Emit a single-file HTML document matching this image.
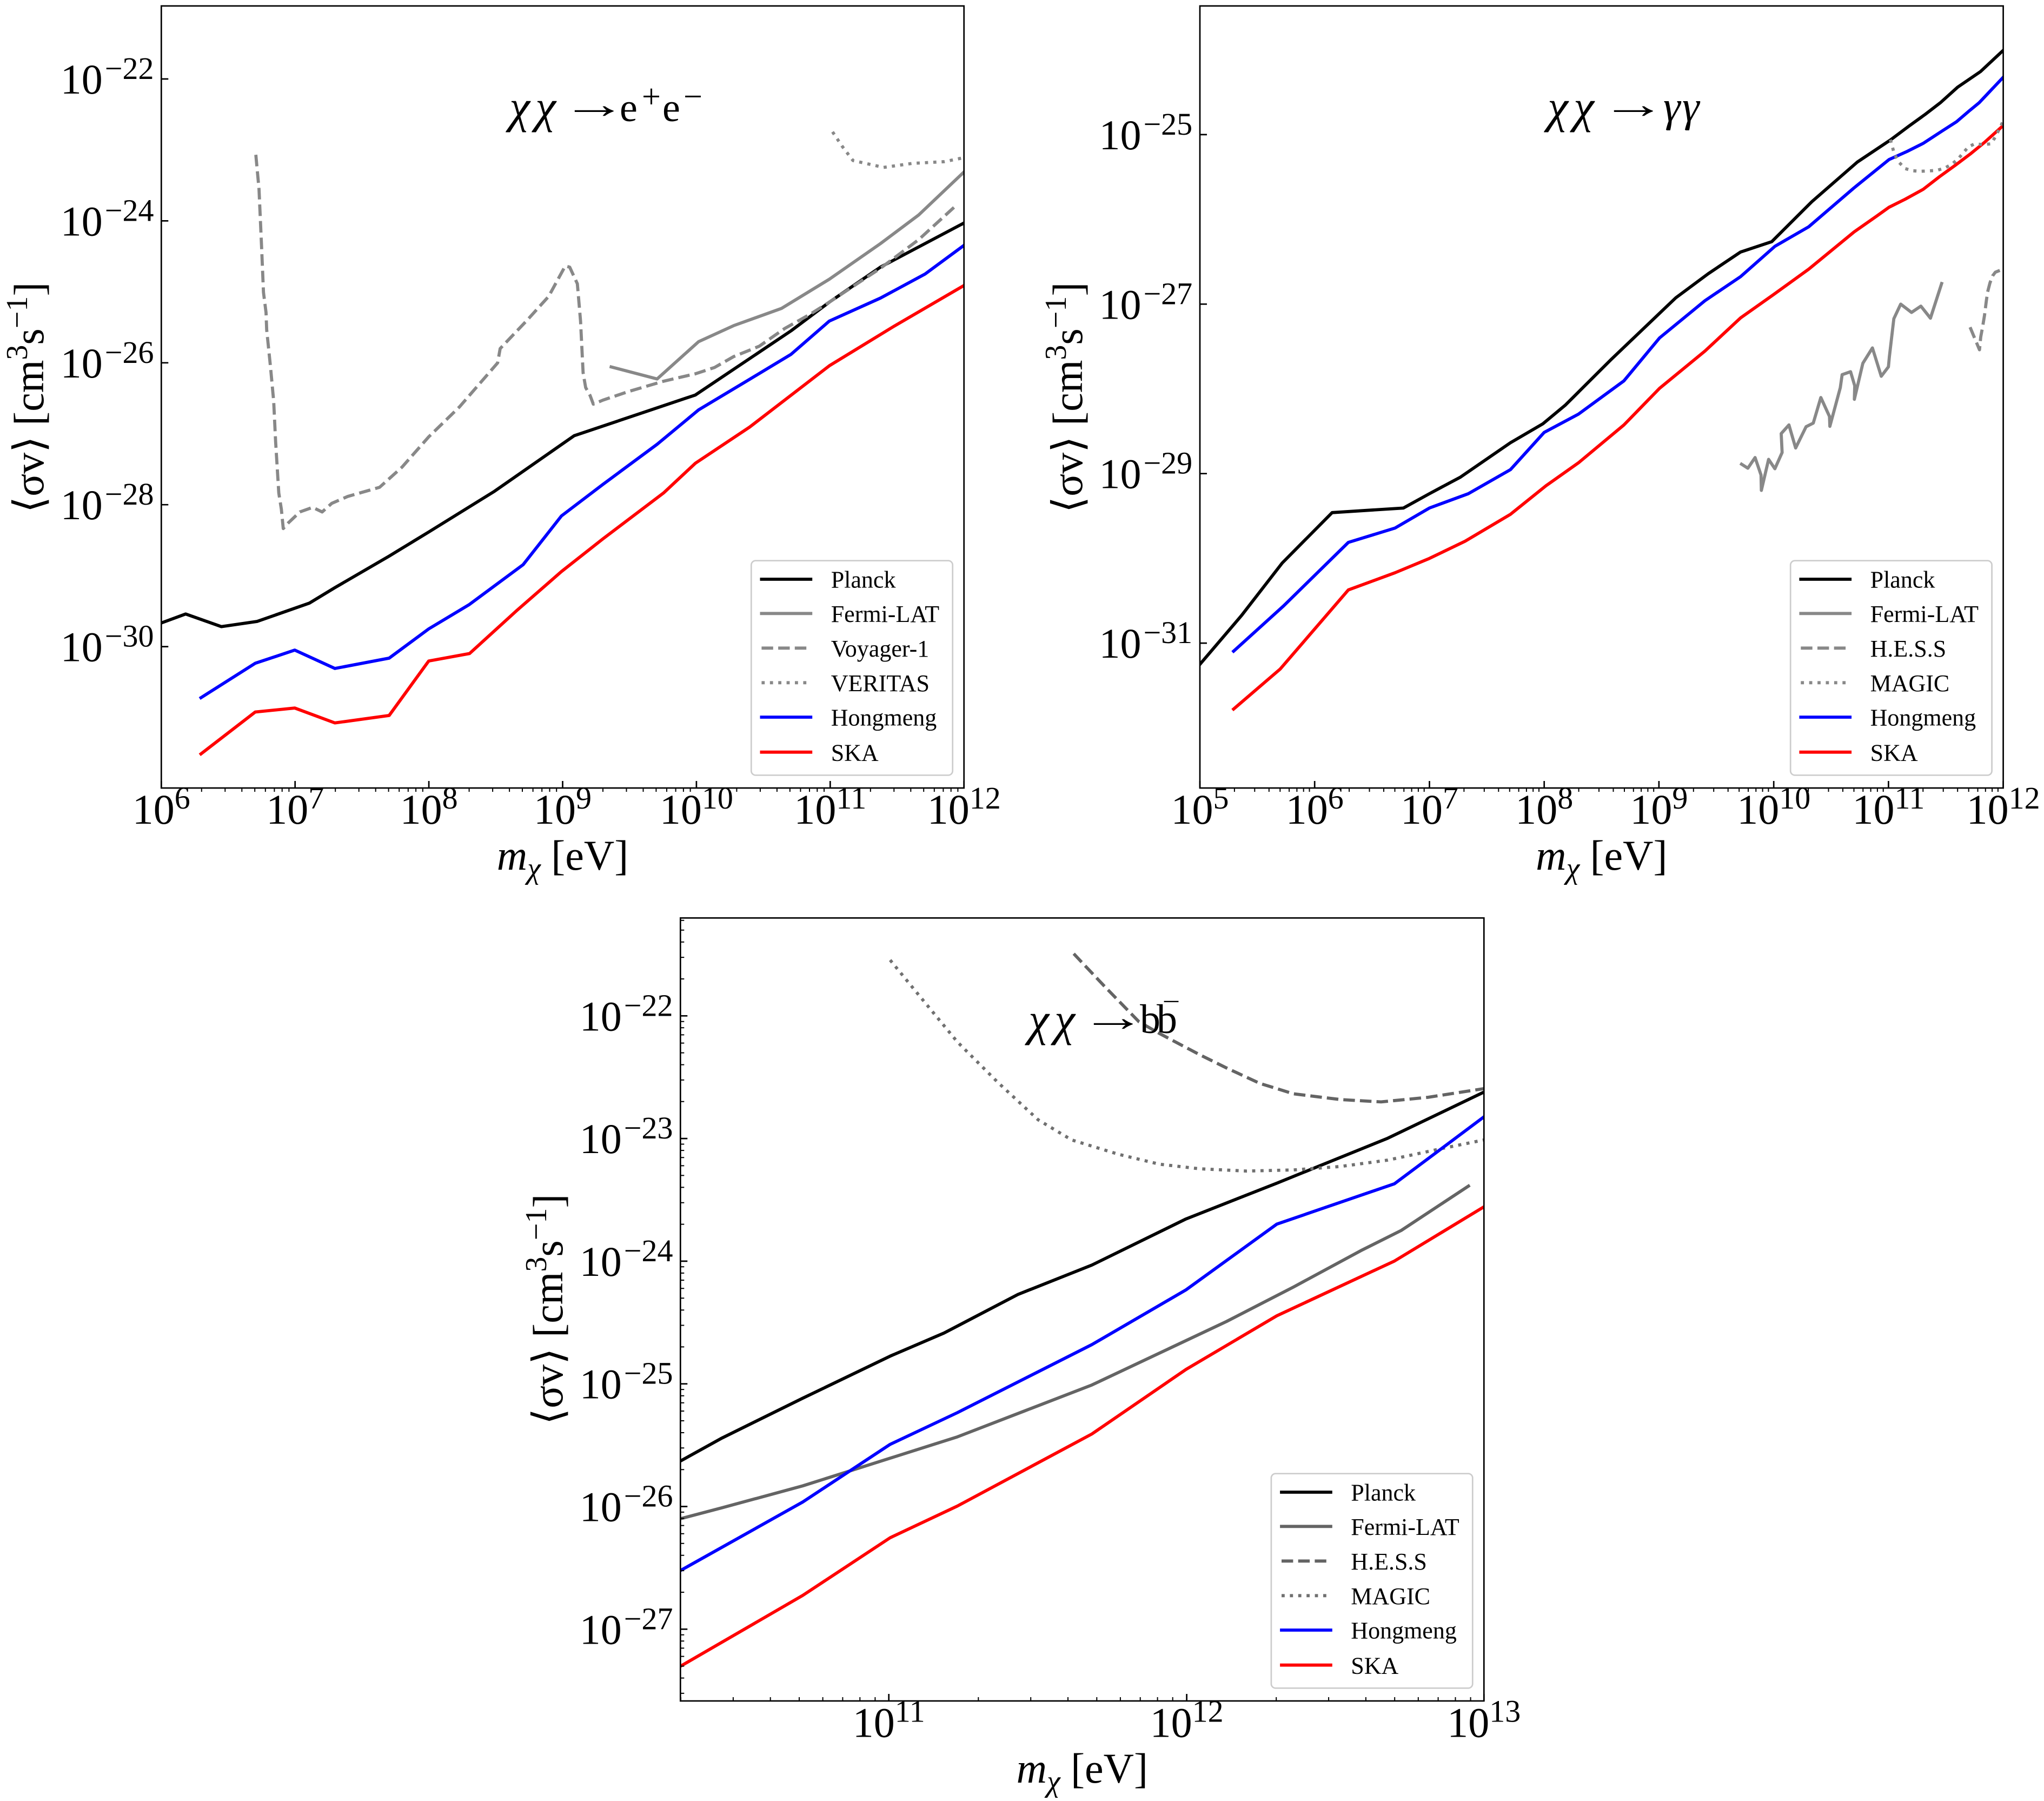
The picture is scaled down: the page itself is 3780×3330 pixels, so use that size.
<!DOCTYPE html>
<html><head><meta charset="utf-8"><style>
html,body{margin:0;padding:0;background:#fff;}
svg{display:block;}
text{font-family:"Liberation Serif","DejaVu Serif",serif;fill:#000;}
.ax{fill:none;stroke:#000;stroke-width:2.7;}
.tk{fill:none;stroke:#000;stroke-width:2.7;}
.mt{fill:none;stroke:#000;stroke-width:2;}
.ln{fill:none;stroke-width:5.8;stroke-linejoin:round;stroke-linecap:square;vector-effect:non-scaling-stroke;}
.da{stroke-dasharray:21.4 9.3;stroke-linecap:butt;}
.do{stroke-dasharray:5.8 9.6;stroke-linecap:butt;}
.lg{fill:#fff;stroke:#cccccc;stroke-width:2.7;}
.lt{font-size:44px;}
.tl{font-size:78px;}
</style></head><body>
<svg width="3780" height="3330" viewBox="0 0 3780 3330" xmlns="http://www.w3.org/2000/svg">
<defs>
<clipPath id="c1"><rect x="298.3" y="11" width="1484.4" height="1446"/></clipPath>
<clipPath id="c2"><rect x="2219" y="11" width="1485.6" height="1446"/></clipPath>
<clipPath id="c3"><rect x="1258.3" y="1697.3" width="1486" height="1447.7"/></clipPath>
<path id="mx1" d="M74.5 0v7M118 0v7M149 0v7M172.9 0v7M192.5 0v7M209.1 0v7M223.4 0v7M236.1 0v7"/>
<path id="mx2" d="M63.9 0v7M101.3 0v7M127.8 0v7M148.3 0v7M165.1 0v7M179.4 0v7M191.7 0v7M202.5 0v7"/>
<path id="mx3" d="M165.6 0v-7M262.5 0v-7M331.3 0v-7M384.6 0v-7M428.2 0v-7M465 0v-7M496.9 0v-7M525 0v-7"/>
<path id="my3" d="M0 -68.3h7M0 -108.2h7M0 -136.5h7M0 -158.5h7M0 -176.5h7M0 -191.7h7M0 -204.8h7M0 -216.4h7"/>
</defs>
<rect x="0" y="0" width="3780" height="3330" fill="#fff"/>

<!-- ================= PANEL 1 ================= -->
<g clip-path="url(#c1)">
<g transform="matrix(1.1798 0 0 1.06 0 0)">
<path class="ln" stroke="#000" d="M252,1087 L291,1071 L347,1093 L403,1084 L485,1052 L525,1025 L610,970 L672,928 L775,857 L900,760 L1090,689 L1240,577 L1300,527 L1380,466 L1511,389"/>
<path class="ln" stroke="#888" d="M958,640 L1030,661 L1095,596 L1150,568 L1225,538 L1300,487 L1380,425 L1440,375 L1511,300"/>
<path class="ln da" stroke="#888" d="M401,270 L406,330 L410,430 L413,510 L417,545 L418,575 L424,640 L429,700 L432,770 L437,860 L441,888 L444,922 L452,912 L470,893 L490,885 L505,893 L520,878 L545,866 L595,850 L630,815 L672,762 L720,710 L780,633 L784,608 L825,560 L860,517 L886,464 L893,466 L905,495 L910,560 L914,650 L918,676 L925,690 L930,705 L945,698 L985,683 L1040,665 L1090,652 L1120,641 L1150,622 L1190,604 L1230,573 L1270,548 L1300,527 L1380,468 L1440,418 L1500,357"/>
<path class="ln do" stroke="#888" d="M1305,230 L1320,255 L1337,280 L1385,292 L1430,285 L1480,282 L1511,275"/>
<path class="ln" stroke="#0000ff" d="M315,1217 L400,1157 L462,1134 L525,1166 L610,1148 L672,1097 L735,1055 L820,985 L880,900 L945,845 L1030,775 L1095,715 L1170,665 L1240,618 L1300,560 L1380,520 L1450,478 L1511,428"/>
<path class="ln" stroke="#ff0000" d="M315,1315 L400,1242 L462,1235 L525,1261 L610,1248 L672,1153 L736,1140 L810,1065 L880,997 L945,940 L1040,860 L1090,808 L1175,745 L1300,638 L1400,570 L1511,498"/>
</g>
</g>
<rect class="ax" x="298.3" y="11" width="1484.4" height="1446"/>
<path class="tk" d="M298.3 1457v-13M545.7 1457v-13M793.1 1457v-13M1040.5 1457v-13M1287.9 1457v-13M1535.3 1457v-13M1782.7 1457v-13M298.3 146h13M298.3 408.4h13M298.3 670.8h13M298.3 933.2h13M298.3 1195.6h13"/>
<g class="mt">
<use href="#mx1" x="298.3" y="1457"/><use href="#mx1" x="545.7" y="1457"/><use href="#mx1" x="793.1" y="1457"/>
<use href="#mx1" x="1040.5" y="1457"/><use href="#mx1" x="1287.9" y="1457"/><use href="#mx1" x="1535.3" y="1457"/>
</g>
<g class="tl" text-anchor="middle">
<text x="298.3" y="1523">10<tspan dy="-28" font-size="58">6</tspan></text>
<text x="545.7" y="1523">10<tspan dy="-28" font-size="58">7</tspan></text>
<text x="793.1" y="1523">10<tspan dy="-28" font-size="58">8</tspan></text>
<text x="1040.5" y="1523">10<tspan dy="-28" font-size="58">9</tspan></text>
<text x="1287.9" y="1523">10<tspan dy="-28" font-size="58">10</tspan></text>
<text x="1535.3" y="1523">10<tspan dy="-28" font-size="58">11</tspan></text>
<text x="1782.7" y="1523">10<tspan dy="-28" font-size="58">12</tspan></text>
</g>
<g class="tl" text-anchor="end">
<text x="284.5" y="173">10<tspan dx="4" dy="-27" font-size="58">−22</tspan></text>
<text x="284.5" y="435.4">10<tspan dx="4" dy="-27" font-size="58">−24</tspan></text>
<text x="284.5" y="697.8">10<tspan dx="4" dy="-27" font-size="58">−26</tspan></text>
<text x="284.5" y="960.2">10<tspan dx="4" dy="-27" font-size="58">−28</tspan></text>
<text x="284.5" y="1222.6">10<tspan dx="4" dy="-27" font-size="58">−30</tspan></text>
</g>
<text class="tl" text-anchor="middle" transform="translate(80,735) rotate(-90)">⟨σv⟩ [cm<tspan dy="-30" font-size="56">3</tspan><tspan dy="30">s</tspan><tspan dy="-30" font-size="56">−1</tspan><tspan dy="30">]</tspan></text>
<text class="tl" x="1040.5" y="1608" text-anchor="middle"><tspan font-style="italic">m</tspan><tspan font-style="italic" font-size="56" dy="16">χ</tspan><tspan dy="-16"> [eV]</tspan></text>
<!-- title 1 -->
<text y="226" font-size="86" font-style="italic"><tspan x="942">χ</tspan><tspan x="990">χ</tspan></text>
<text transform="translate(1038,218) scale(1.6,1)" font-size="76">→</text>
<text y="224" font-size="74"><tspan x="1146">e</tspan><tspan x="1225">e</tspan></text>
<text y="199" font-size="62"><tspan x="1187">+</tspan><tspan x="1264">−</tspan></text>
<!-- legend 1 -->
<rect class="lg" x="1389.3" y="1036.7" width="372.4" height="396.6" rx="8"/>
<path class="ln" stroke="#000" d="M1408.4 1071H1499.3"/>
<path class="ln" stroke="#888" d="M1408.4 1134.3H1499.3"/>
<path class="ln da" stroke="#888" d="M1408.4 1198.3H1499.3"/>
<path class="ln do" stroke="#888" d="M1408.4 1262.3H1499.3"/>
<path class="ln" stroke="#0000ff" d="M1408.4 1326H1499.3"/>
<path class="ln" stroke="#ff0000" d="M1408.4 1390.7H1499.3"/>
<g class="lt">
<text x="1536.7" y="1086.7">Planck</text>
<text x="1536.7" y="1150">Fermi-LAT</text>
<text x="1536.7" y="1214">Voyager-1</text>
<text x="1536.7" y="1278">VERITAS</text>
<text x="1536.7" y="1341.7">Hongmeng</text>
<text x="1536.7" y="1406.4">SKA</text>
</g>

<!-- ================= PANEL 2 ================= -->
<g clip-path="url(#c2)">
<g transform="matrix(1.199 0 0 1.059 1900 0)">
<path class="ln" stroke="#000" d="M266,1160 L330,1075 L393,983 L470,895 L580,887 L620,862 L668,833 L745,773 L795,740 L830,707 L900,628 L975,547 L1000,520 L1050,478 L1100,440 L1148,422 L1210,352 L1280,283 L1331.7,243.9 L1359.5,220.3 L1384.5,199.9 L1408.1,179.4 L1435,152 L1470,125 L1505,88"/>
<path class="ln" stroke="#0000ff" d="M318,1137 L395,1058 L495,947 L567,922 L620,887 L680,862 L745,820 L797,755 L850,723 L920,665 L975,590 L1045,525 L1100,483 L1153,430 L1205,396 L1275,328 L1329,278.6 L1356.8,264.4 L1381.8,250.2 L1409.5,229.7 L1433.1,212.5 L1452.6,193.6 L1467.9,179.4 L1505,135"/>
<path class="ln" stroke="#ff0000" d="M318,1238 L390,1168 L495,1030 L567,1000 L620,975 L675,945 L745,898 L800,848 L850,808 L920,742 L975,678 L1045,613 L1100,555 L1150,515 L1205,470 L1275,405 L1309.4,377.7 L1328.9,361.9 L1353.9,347.8 L1381.7,330.5 L1406.8,308.5 L1431.8,288 L1454,269.1 L1476.2,248.6 L1505.4,218.8"/>
</g>
<path class="ln" stroke="#888" d="M3220.7,858.3 L3232.3,865.7 L3245.7,846 L3256.7,878.3 L3257.3,906.7 L3270.7,849.3 L3282.3,866.7 L3295.7,836.7 L3294,801.7 L3308.3,785.7 L3320.7,828.3 L3340,789 L3353.3,782.3 L3367.3,735 L3383.3,770 L3384,788.3 L3403.3,716.7 L3406.7,692.7 L3422.3,687.3 L3430,713.3 L3429.3,738.3 L3445,671.7 L3462.7,643.3 L3479,695.7 L3492.3,678.3 L3494,660 L3502.3,589.3 L3515,562.3 L3535,577.7 L3552.3,566 L3570,588.3 L3590.7,524.3"/>
<path class="ln da" stroke="#888" d="M3643.3,605 L3660.7,646.7 L3663,623 L3666.7,603 L3670,583 L3673.3,556.7 L3675.7,540 L3680,523.3 L3685,510 L3690,503.3 L3698.3,500"/>
<path class="ln do" stroke="#888" d="M3496,258.3 L3503.3,285 L3511.7,300 L3523.3,311.7 L3536.7,315.7 L3551.7,316.7 L3566.7,316 L3581.7,315 L3596.7,310.7 L3610,303.3 L3621.7,293.3 L3630,283.3 L3640,271.7 L3651.7,266 L3666.7,267.3 L3681.7,266 L3690,253.3 L3705,223"/>
</g>
<rect class="ax" x="2219" y="11" width="1485.6" height="1446"/>
<path class="tk" d="M2219 1457v-13M2431.2 1457v-13M2643.5 1457v-13M2855.7 1457v-13M3067.9 1457v-13M3280.2 1457v-13M3492.4 1457v-13M3704.6 1457v-13M2219 248.9h13M2219 562.3h13M2219 875.7h13M2219 1189.1h13"/>
<g class="mt">
<use href="#mx2" x="2219" y="1457"/><use href="#mx2" x="2431.2" y="1457"/><use href="#mx2" x="2643.5" y="1457"/>
<use href="#mx2" x="2855.7" y="1457"/><use href="#mx2" x="3067.9" y="1457"/><use href="#mx2" x="3280.2" y="1457"/>
<use href="#mx2" x="3492.4" y="1457"/>
</g>
<g class="tl" text-anchor="middle">
<text x="2219" y="1523">10<tspan dy="-28" font-size="58">5</tspan></text>
<text x="2431.2" y="1523">10<tspan dy="-28" font-size="58">6</tspan></text>
<text x="2643.5" y="1523">10<tspan dy="-28" font-size="58">7</tspan></text>
<text x="2855.7" y="1523">10<tspan dy="-28" font-size="58">8</tspan></text>
<text x="3067.9" y="1523">10<tspan dy="-28" font-size="58">9</tspan></text>
<text x="3280.2" y="1523">10<tspan dy="-28" font-size="58">10</tspan></text>
<text x="3492.4" y="1523">10<tspan dy="-28" font-size="58">11</tspan></text>
<text x="3704.6" y="1523">10<tspan dy="-28" font-size="58">12</tspan></text>
</g>
<g class="tl" text-anchor="end">
<text x="2205.2" y="275.9">10<tspan dx="4" dy="-27" font-size="58">−25</tspan></text>
<text x="2205.2" y="589.3">10<tspan dx="4" dy="-27" font-size="58">−27</tspan></text>
<text x="2205.2" y="902.7">10<tspan dx="4" dy="-27" font-size="58">−29</tspan></text>
<text x="2205.2" y="1216.1">10<tspan dx="4" dy="-27" font-size="58">−31</tspan></text>
</g>
<text class="tl" text-anchor="middle" transform="translate(2001,735) rotate(-90)">⟨σv⟩ [cm<tspan dy="-30" font-size="56">3</tspan><tspan dy="30">s</tspan><tspan dy="-30" font-size="56">−1</tspan><tspan dy="30">]</tspan></text>
<text class="tl" x="2961.8" y="1608" text-anchor="middle"><tspan font-style="italic">m</tspan><tspan font-style="italic" font-size="56" dy="16">χ</tspan><tspan dy="-16"> [eV]</tspan></text>
<!-- title 2 -->
<text y="226" font-size="86" font-style="italic"><tspan x="2862">χ</tspan><tspan x="2910">χ</tspan></text>
<text transform="translate(2960,218) scale(1.6,1)" font-size="76">→</text>
<text y="224" font-size="80" font-style="italic"><tspan x="3076">γ</tspan><tspan x="3111">γ</tspan></text>
<!-- legend 2 -->
<rect class="lg" x="3311.2" y="1036.7" width="372.4" height="396.6" rx="8"/>
<path class="ln" stroke="#000" d="M3330.3 1071H3421.2"/>
<path class="ln" stroke="#888" d="M3330.3 1134.3H3421.2"/>
<path class="ln da" stroke="#888" d="M3330.3 1198.3H3421.2"/>
<path class="ln do" stroke="#888" d="M3330.3 1262.3H3421.2"/>
<path class="ln" stroke="#0000ff" d="M3330.3 1326H3421.2"/>
<path class="ln" stroke="#ff0000" d="M3330.3 1390.7H3421.2"/>
<g class="lt">
<text x="3458.6" y="1086.7">Planck</text>
<text x="3458.6" y="1150">Fermi-LAT</text>
<text x="3458.6" y="1214">H.E.S.S</text>
<text x="3458.6" y="1278">MAGIC</text>
<text x="3458.6" y="1341.7">Hongmeng</text>
<text x="3458.6" y="1406.4">SKA</text>
</g>

<!-- ================= PANEL 3 ================= -->
<g clip-path="url(#c3)">
<g transform="matrix(1.2436 0 0 1.066 900 1660)">
<path class="ln" stroke="#000" d="M288,977 L350,937 L470,868 L600,795 L680,755 L790,688 L900,637 L1040,557 L1175,495 L1340,417 L1483,337"/>
<path class="ln" stroke="#646464" d="M288,1077 L350,1058 L470,1020 L600,972 L700,935 L800,890 L900,845 L1000,790 L1100,735 L1200,675 L1300,612 L1360,577 L1460,500"/>
<path class="ln da" stroke="#646464" d="M873,97 L920,155 L970,215 L1000,235 L1060,272 L1100,295 L1150,322 L1200,340 L1270,350 L1330,354 L1400,346 L1483,331"/>
<path class="ln do" stroke="#707070" d="M600,108 L640,165 L700,250 L760,320 L820,385 L870,420 L940,445 L1000,462 L1060,470 L1130,474 L1200,472 L1270,466 L1340,455 L1420,435 L1483,420"/>
<path class="ln" stroke="#0000ff" d="M288,1167 L470,1048 L600,948 L700,893 L900,775 L1040,680 L1175,566 L1350,496 L1483,380"/>
<path class="ln" stroke="#ff0000" d="M288,1333 L470,1210 L600,1110 L700,1055 L900,930 L1040,818 L1175,725 L1350,630 L1483,536"/>
</g>
<g class="mt">
<use href="#mx3" x="1093.4" y="3145"/><use href="#mx3" x="1643.7" y="3145"/><use href="#mx3" x="2194.6" y="3145"/>
<use href="#my3" x="1258.3" y="3239.1"/><use href="#my3" x="1258.3" y="3012.3"/><use href="#my3" x="1258.3" y="2785.5"/>
<use href="#my3" x="1258.3" y="2558.7"/><use href="#my3" x="1258.3" y="2331.9"/><use href="#my3" x="1258.3" y="2105.1"/>
<use href="#my3" x="1258.3" y="1878.3"/>
</g>
</g>
<rect class="ax" x="1258.3" y="1697.3" width="1486" height="1447.7"/>
<path class="tk" d="M1643.7 3145v-13M2194.6 3145v-13M2744.3 3145v-13M1258.3 1878.3h13M1258.3 2105.1h13M1258.3 2331.9h13M1258.3 2558.7h13M1258.3 2785.5h13M1258.3 3012.3h13"/>
<g class="tl" text-anchor="middle">
<text x="1643.7" y="3211.7">10<tspan dy="-28" font-size="58">11</tspan></text>
<text x="2194.6" y="3211.7">10<tspan dy="-28" font-size="58">12</tspan></text>
<text x="2744.3" y="3211.7">10<tspan dy="-28" font-size="58">13</tspan></text>
</g>
<g class="tl" text-anchor="end">
<text x="1244.5" y="1905.3">10<tspan dx="4" dy="-27" font-size="58">−22</tspan></text>
<text x="1244.5" y="2132.1">10<tspan dx="4" dy="-27" font-size="58">−23</tspan></text>
<text x="1244.5" y="2358.9">10<tspan dx="4" dy="-27" font-size="58">−24</tspan></text>
<text x="1244.5" y="2585.7">10<tspan dx="4" dy="-27" font-size="58">−25</tspan></text>
<text x="1244.5" y="2812.5">10<tspan dx="4" dy="-27" font-size="58">−26</tspan></text>
<text x="1244.5" y="3039.3">10<tspan dx="4" dy="-27" font-size="58">−27</tspan></text>
</g>
<text class="tl" text-anchor="middle" transform="translate(1040,2421) rotate(-90)">⟨σv⟩ [cm<tspan dy="-30" font-size="56">3</tspan><tspan dy="30">s</tspan><tspan dy="-30" font-size="56">−1</tspan><tspan dy="30">]</tspan></text>
<text class="tl" x="2001.3" y="3296" text-anchor="middle"><tspan font-style="italic">m</tspan><tspan font-style="italic" font-size="56" dy="16">χ</tspan><tspan dy="-16"> [eV]</tspan></text>
<!-- title 3 -->
<text y="1914" font-size="86" font-style="italic"><tspan x="1902">χ</tspan><tspan x="1950">χ</tspan></text>
<text transform="translate(1998,1906) scale(1.6,1)" font-size="76">→</text>
<text y="1910" font-size="76"><tspan x="2108">b</tspan><tspan x="2139">b</tspan></text>
<text x="2153" y="1890" font-size="52">¯</text>
<!-- legend 3 -->
<rect class="lg" x="2350.9" y="2724.7" width="372.4" height="396.6" rx="8"/>
<path class="ln" stroke="#000" d="M2370 2759H2460.9"/>
<path class="ln" stroke="#646464" d="M2370 2822.3H2460.9"/>
<path class="ln da" stroke="#646464" d="M2370 2886.3H2460.9"/>
<path class="ln do" stroke="#707070" d="M2370 2950.3H2460.9"/>
<path class="ln" stroke="#0000ff" d="M2370 3014H2460.9"/>
<path class="ln" stroke="#ff0000" d="M2370 3078.7H2460.9"/>
<g class="lt">
<text x="2498.3" y="2774.7">Planck</text>
<text x="2498.3" y="2838">Fermi-LAT</text>
<text x="2498.3" y="2902">H.E.S.S</text>
<text x="2498.3" y="2966">MAGIC</text>
<text x="2498.3" y="3029.7">Hongmeng</text>
<text x="2498.3" y="3094.4">SKA</text>
</g>
</svg>
</body></html>
